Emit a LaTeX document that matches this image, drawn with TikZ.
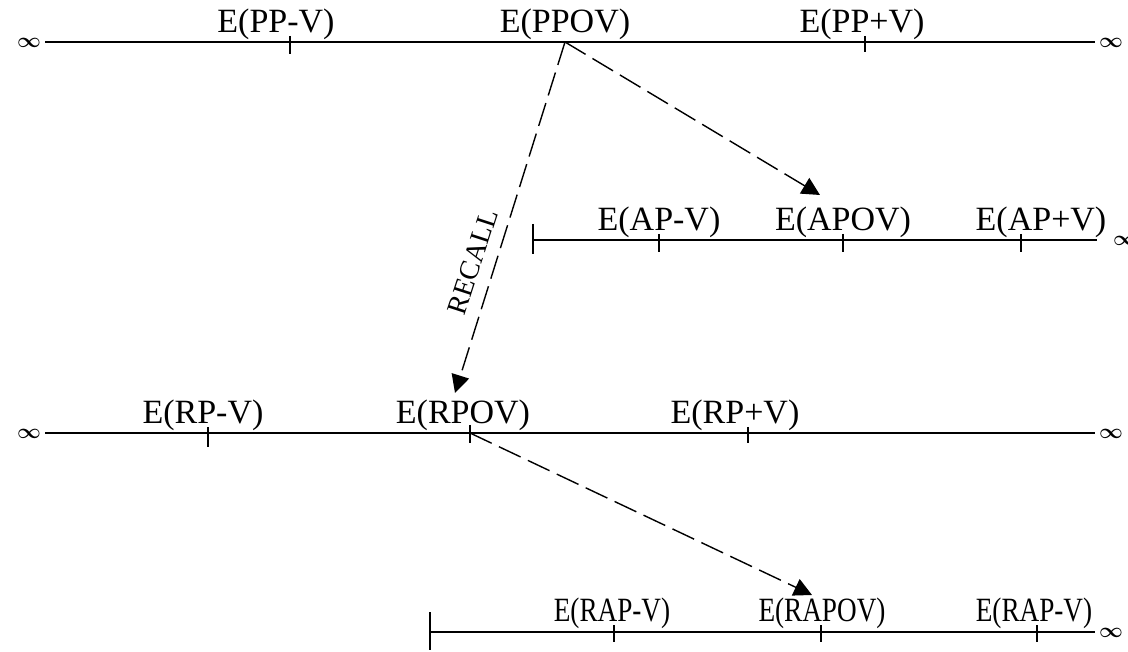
\documentclass[tikz,border=0pt]{standalone}
\usepackage{fontspec}
\setmainfont{Liberation Serif}
\usetikzlibrary{arrows.meta,calc}
\begin{document}
\begin{tikzpicture}[x=1pt,y=-1pt,
  axis/.style={line width=1.8pt},
  tickmark/.style={line width=1.8pt},
  lbl/.style={anchor=base,inner sep=0pt,font=\fontsize{34}{36}\selectfont},
  lblr/.style={anchor=base,inner sep=0pt,font=\fontsize{34}{36}\selectfont,xscale=0.8},
  inf/.style={inner sep=0pt,font=\fontsize{21}{24}\boldmath\selectfont},
  flow/.style={line width=1.4pt,dash pattern=on 24pt off 8pt,-{Triangle[length=18pt,width=18pt]}}
]
\useasboundingbox (0,0) rectangle (1128,652);
% line 1 (PP)
\node[inf] (i1l) at (29,43) {$\infty$};
\node[inf] (i1r) at (1111,43) {$\infty$};
\coordinate (l1a) at (45,42);
\coordinate (l1b) at (1095,42);
\draw[axis] (l1a) -- (l1b);
\coordinate (ppm) at (290,42);
\coordinate (ppo) at (565,42);
\coordinate (ppp) at (865,42);
\draw[tickmark] ($(ppm)+(0,-6)$) -- ($(ppm)+(0,12)$);
\draw[tickmark] ($(ppp)+(0,-6)$) -- ($(ppp)+(0,10)$);
\node[lbl] (tppm) at (276,33) {E(PP-V)};
\node[lbl] (tppo) at (565,33) {E(PPOV)};
\node[lbl] (tppp) at (862,33) {E(PP+V)};
% line 2 (AP)
\coordinate (l2a) at (533,240);
\coordinate (l2b) at (1097,240);
\draw[axis] (l2a) -- (l2b);
\draw[tickmark] (533,224) -- (533,254);
\node[inf] (i2r) at (1125,241) {$\infty$};
\coordinate (apm) at (659,240);
\coordinate (apo) at (843,240);
\coordinate (app) at (1021,240);
\foreach \c in {apm,apo,app}{\draw[tickmark] ($(\c)+(0,-6)$) -- ($(\c)+(0,12)$);}
\node[lbl] (tapm) at (659,231) {E(AP-V)};
\node[lbl] (tapo) at (843,231) {E(APOV)};
\node[lbl] (tapp) at (1041,231) {E(AP+V)};
% line 3 (RP)
\node[inf] (i3l) at (29,434) {$\infty$};
\node[inf] (i3r) at (1111,434) {$\infty$};
\coordinate (l3a) at (45,433);
\coordinate (l3b) at (1095,433);
\draw[axis] (l3a) -- (l3b);
\coordinate (rpm) at (208,433);
\coordinate (rpo) at (470,433);
\coordinate (rpp) at (748,433);
\draw[tickmark] ($(rpm)+(0,-6)$) -- ($(rpm)+(0,14)$);
\draw[line width=2.6pt] ($(rpo)+(0,-8)$) -- ($(rpo)+(0,10)$);
\draw[tickmark] ($(rpp)+(0,-6)$) -- ($(rpp)+(0,10)$);
\node[lbl] (trpm) at (203,424) {E(RP-V)};
\node[lbl] (trpo) at (463,424) {E(RPOV)};
\node[lbl] (trpp) at (735,424) {E(RP+V)};
% line 4 (RAP)
\coordinate (l4a) at (430,632);
\coordinate (l4b) at (1095,632);
\draw[axis] (l4a) -- (l4b);
\draw[line width=2.6pt] (430,612) -- (430,650);
\node[inf] (i4r) at (1111,633) {$\infty$};
\coordinate (rapm) at (614,632);
\coordinate (rapo) at (821,632);
\coordinate (rapp) at (1037,632);
\foreach \c in {rapm,rapo,rapp}{\draw[tickmark] ($(\c)+(0,-7)$) -- ($(\c)+(0,10)$);}
\node[lblr] (trapm) at (612,621) {E(RAP-V)};
\node[lblr] (trapo) at (822,621) {E(RAPOV)};
\node[lblr] (trapp) at (1034,621) {E(RAP-V)};
% arrows
\coordinate (a1) at (820,195);
\coordinate (a2) at (455,393);
\coordinate (a3) at (812,595);
\draw[flow] (ppo) -- (a1);
\draw[flow] (ppo) -- (a2);
\draw[flow] (rpo) -- (a3);
\node[inner sep=0pt,rotate=72,font=\fontsize{28}{30}\selectfont] (recall) at (473,262) {RECALL};
\end{tikzpicture}
\end{document}
